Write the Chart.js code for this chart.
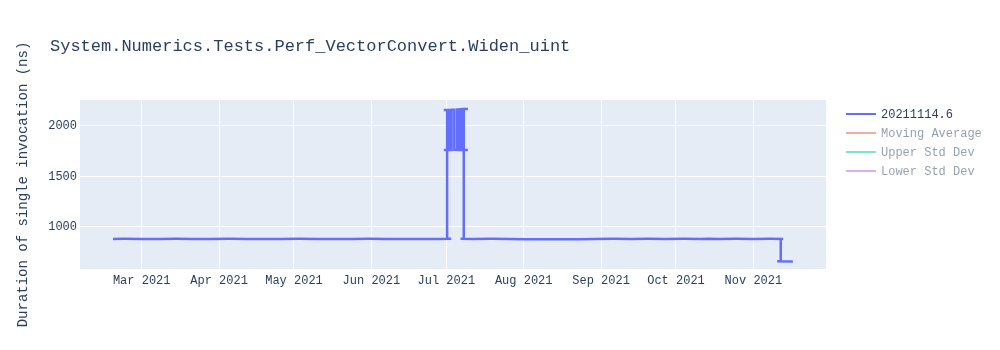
<!DOCTYPE html>
<html>
<head>
<meta charset="utf-8">
<script src="https://cdn.jsdelivr.net/npm/chart.js@4"></script>
<style>
  html, body { margin: 0; padding: 0; background: #ffffff; }
  #wrap { width: 1000px; height: 350px; }
</style>
</head>
<body>
<div id="wrap"><canvas id="c" width="1000" height="350"></canvas></div>
<script>
// ---- data ----
const chartTitle = 'System.Numerics.Tests.Perf_VectorConvert.Widen_uint';
const yAxisTitle = 'Duration of single invocation (ns)';
const seriesNames = ['20211114.6', 'Moving Average', 'Upper Std Dev', 'Lower Std Dev'];
const seriesColors = ['#636efa', '#EF553B', '#00cc96', '#ab63fa'];
const seriesHidden = [false, true, true, true];

const runDates = [
  '2021-02-17T12:00', '2021-02-22T00:00', '2021-03-01T00:00', '2021-03-08T00:00',
  '2021-03-15T00:00', '2021-03-22T00:00', '2021-03-29T00:00', '2021-04-05T00:00',
  '2021-04-12T00:00', '2021-04-19T00:00', '2021-04-26T00:00', '2021-05-03T00:00',
  '2021-05-10T00:00', '2021-05-17T00:00', '2021-05-24T00:00', '2021-05-31T00:00',
  '2021-06-07T00:00', '2021-06-14T00:00', '2021-06-21T00:00', '2021-06-28T00:00',
  '2021-07-03T00:00',
  '2021-07-01T08:00', '2021-07-01T08:00', '2021-06-30T00:00', '2021-07-02T03:00',
  '2021-07-02T03:00', '2021-06-30T00:00', '2021-07-03T03:00', '2021-07-03T03:00',
  '2021-07-04T05:00', '2021-07-04T05:00', '2021-07-05T08:00', '2021-07-05T08:00',
  '2021-07-05T22:00', '2021-07-05T22:00', '2021-07-06T13:00', '2021-07-06T13:00',
  '2021-07-07T00:00', '2021-07-07T00:00', '2021-07-07T12:00', '2021-07-07T12:00',
  '2021-07-09T16:00', '2021-07-08T00:00', '2021-07-08T00:00', '2021-07-09T16:00',
  '2021-07-08T00:00', '2021-07-08T00:00', '2021-07-06T17:00',
  '2021-07-12T00:00', '2021-07-19T00:00', '2021-07-26T00:00', '2021-08-02T00:00',
  '2021-08-09T00:00', '2021-08-16T00:00', '2021-08-23T00:00', '2021-08-30T00:00',
  '2021-09-06T00:00', '2021-09-13T00:00', '2021-09-20T00:00', '2021-09-27T00:00',
  '2021-10-04T00:00', '2021-10-11T00:00', '2021-10-14T00:00', '2021-10-18T00:00',
  '2021-10-25T00:00', '2021-11-01T00:00', '2021-11-08T00:00', '2021-11-12T22:00',
  '2021-11-11T23:00', '2021-11-11T23:00', '2021-11-10T12:00', '2021-11-16T19:00'
];
const runValues = [
  879, 880, 878, 879,
  880, 878, 879, 880,
  879, 878, 879, 880,
  879, 878, 879, 880,
  879, 878, 879, 879,
  880,
  880, 2158, 2158, 2158,
  1762, 1762, 1762, 2160,
  2160, 1764, 1764, 2162,
  2162, 1762, 1762, 2165,
  2165, 1760, 1760, 2168,
  2168, 2168, 1760, 1760,
  1760, 880, 880,
  879, 880, 879, 877,
  876, 876, 877, 879,
  880, 879, 880, 879,
  880, 879, 881, 879,
  880, 879, 880, 879,
  879, 657, 657, 656
];

const xMinDate = '2021-02-04T07:00';
const xMaxDate = '2021-11-30T02:00';
const yMin = 581;
const yMax = 2257;
const yTickValues = [1000, 1500, 2000];
const xTickDates = ['2021-03-01', '2021-04-01', '2021-05-01', '2021-06-01', '2021-07-01',
                    '2021-08-01', '2021-09-01', '2021-10-01', '2021-11-01'];
const xTickLabels = ['Mar 2021', 'Apr 2021', 'May 2021', 'Jun 2021', 'Jul 2021',
                     'Aug 2021', 'Sep 2021', 'Oct 2021', 'Nov 2021'];

// ---- helpers ----
const toMs = s => Date.parse((s.length === 10 ? s + 'T00:00' : s) + ':00Z');
const xTickMs = xTickDates.map(toMs);
const FONT = '"Liberation Mono", "Courier New", monospace';
const TEXT = '#2a3f5f';

const mainData = runDates.map((d, i) => ({ x: toMs(d), y: runValues[i] }));

const datasets = seriesNames.map((name, i) => ({
  label: name,
  data: i === 0 ? mainData : [],
  borderColor: seriesColors[i],
  backgroundColor: seriesColors[i],
  borderWidth: 2.5,
  pointRadius: 0,
  pointHoverRadius: 0,
  tension: 0,
  fill: false,
  hidden: seriesHidden[i]
}));

const plotBg = {
  id: 'plotBg',
  beforeDraw(chart) {
    const { ctx, chartArea: a } = chart;
    ctx.save();
    ctx.fillStyle = '#e5ecf6';
    ctx.fillRect(a.left, a.top, a.right - a.left, a.bottom - a.top);
    ctx.restore();
  }
};

const titleAndLegend = {
  id: 'titleAndLegend',
  afterDraw(chart) {
    const ctx = chart.ctx;
    ctx.save();
    ctx.font = '17px ' + FONT;
    ctx.fillStyle = TEXT;
    ctx.textBaseline = 'middle';
    ctx.textAlign = 'left';
    ctx.fillText(chartTitle, 50, 46);

    ctx.font = '12px ' + FONT;
    chart.data.datasets.forEach((ds, i) => {
      const y = 114 + i * 19;
      ctx.globalAlpha = ds.hidden ? 0.5 : 1;
      ctx.strokeStyle = ds.borderColor;
      ctx.lineWidth = 2;
      ctx.beginPath();
      ctx.moveTo(846, y);
      ctx.lineTo(876, y);
      ctx.stroke();
      ctx.fillStyle = TEXT;
      ctx.fillText(ds.label, 881, y + 1);
    });
    ctx.restore();
  }
};

new Chart(document.getElementById('c'), {
  type: 'line',
  data: { datasets },
  options: {
    responsive: false,
    devicePixelRatio: 1,
    animation: false,
    events: [],
    layout: { padding: { top: 100, right: 174, left: 0, bottom: 0 } },
    plugins: {
      legend: { display: false },
      title: { display: false },
      tooltip: { enabled: false }
    },
    scales: {
      x: {
        type: 'linear',
        min: toMs(xMinDate),
        max: toMs(xMaxDate),
        afterFit(scale) { scale.height = 81; },
        afterBuildTicks(scale) { scale.ticks = xTickMs.map(v => ({ value: v })); },
        ticks: {
          autoSkip: false,
          maxRotation: 0,
          padding: 5,
          color: TEXT,
          font: { family: FONT, size: 12 },
          callback(value) {
            const i = xTickMs.indexOf(value);
            return i >= 0 ? xTickLabels[i] : '';
          }
        },
        grid: { color: '#ffffff', lineWidth: 1, drawTicks: false },
        border: { display: false }
      },
      y: {
        type: 'linear',
        min: yMin,
        max: yMax,
        afterFit(scale) { scale.width = 80; },
        afterBuildTicks(scale) { scale.ticks = yTickValues.map(v => ({ value: v })); },
        ticks: {
          padding: 3,
          color: TEXT,
          font: { family: FONT, size: 12 },
          callback(value) { return String(value); }
        },
        grid: { color: '#ffffff', lineWidth: 1, drawTicks: false },
        border: { display: false },
        title: {
          display: true,
          text: yAxisTitle,
          color: TEXT,
          font: { family: FONT, size: 14 },
          padding: { top: 15, bottom: 0 }
        }
      }
    }
  },
  plugins: [plotBg, titleAndLegend]
});
</script>
</body>
</html>
